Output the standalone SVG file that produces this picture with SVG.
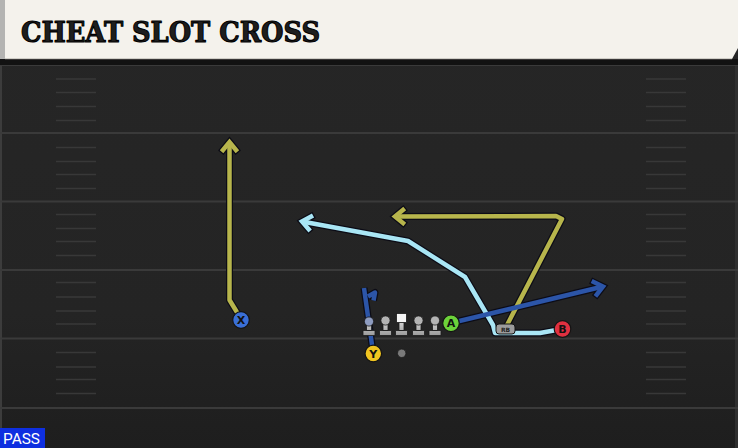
<svg xmlns="http://www.w3.org/2000/svg" width="738" height="448" viewBox="0 0 738 448">
  <defs>
    <linearGradient id="field" x1="0" y1="0" x2="0" y2="1">
      <stop offset="0" stop-color="#262626"/>
      <stop offset="0.7" stop-color="#242424"/>
      <stop offset="1" stop-color="#1e1e1e"/>
    </linearGradient>
    <linearGradient id="lm" x1="0" y1="0" x2="0" y2="1">
      <stop offset="0" stop-color="#d4d4d4"/>
      <stop offset="1" stop-color="#9a9a9a"/>
    </linearGradient>
    <marker id="ah-o" markerUnits="userSpaceOnUse" markerWidth="30" markerHeight="30" refX="0" refY="0" viewBox="-15 -15 30 30" orient="auto" overflow="visible">
      <path d="M-8,-6.5 L0,0 L-8,6.5" fill="none" stroke="#0c0c16" stroke-width="7" stroke-linejoin="miter" stroke-linecap="square"/>
    </marker>
    <marker id="ah-olive" markerUnits="userSpaceOnUse" markerWidth="30" markerHeight="30" refX="0" refY="0" viewBox="-15 -15 30 30" orient="auto" overflow="visible">
      <path d="M-8,-6.5 L0,0 L-8,6.5" fill="none" stroke="#b7b54c" stroke-width="4.5" stroke-linejoin="miter" stroke-linecap="square"/>
    </marker>
    <marker id="ah-blue" markerUnits="userSpaceOnUse" markerWidth="30" markerHeight="30" refX="0" refY="0" viewBox="-15 -15 30 30" orient="auto" overflow="visible">
      <path d="M-8,-6.5 L0,0 L-8,6.5" fill="none" stroke="#2c55a8" stroke-width="4.5" stroke-linejoin="miter" stroke-linecap="square"/>
    </marker>
    <marker id="ah-cyan" markerUnits="userSpaceOnUse" markerWidth="30" markerHeight="30" refX="0" refY="0" viewBox="-15 -15 30 30" orient="auto" overflow="visible">
      <path d="M-8,-6.5 L0,0 L-8,6.5" fill="none" stroke="#a9e6f5" stroke-width="4.5" stroke-linejoin="miter" stroke-linecap="square"/>
    </marker>
  </defs>
  <style>
    .yard { stroke: #3a3a3a; stroke-width: 2; }
    .hash { stroke: #383838; stroke-width: 1.6; }
    .out { fill: none; stroke: #0c0c16; stroke-width: 7; stroke-linejoin: round; }
    .route { fill: none; stroke-width: 4.5; stroke-linejoin: round; }
    .olive { stroke: #b7b54c; }
    .blue { stroke: #2c55a8; }
    .cyan { stroke: #a9e6f5; }
    .lbl { font-family: "DejaVu Sans", "Liberation Sans", sans-serif; font-weight: bold; font-size: 11px; fill: #111; text-anchor: middle; }
    .pl { stroke: #141414; stroke-width: 1.2; }
    .lineman { fill: url(#lm); stroke: #1a1a1a; stroke-width: 0.8; }
    .head { fill: #b4b4b4; stroke: #1a1a1a; stroke-width: 0.8; }
  </style>

  <!-- field -->
  <rect x="0" y="0" width="738" height="448" fill="url(#field)"/>
  <rect x="0" y="59" width="2" height="389" fill="#3c3c3c"/>
  <rect x="735" y="59" width="3" height="389" fill="#2f2f2f"/>

  <g id="yardlines">
    <line class="yard" x1="0" y1="65" x2="738" y2="65"/>
    <line class="yard" x1="0" y1="133" x2="738" y2="133"/>
    <line class="yard" x1="0" y1="201.5" x2="738" y2="201.5"/>
    <line class="yard" x1="0" y1="270" x2="738" y2="270"/>
    <line class="yard" x1="0" y1="338.5" x2="738" y2="338.5"/>
    <line class="yard" x1="0" y1="408" x2="738" y2="408"/>
  </g>
  <g id="hashes">
    <path class="hash" d="M56,79H96M56,92.5H96M56,106.5H96M56,120.5H96M56,147.5H96M56,161.5H96M56,174.5H96M56,188.5H96M56,214.5H96M56,228.5H96M56,241.5H96M56,255.5H96M56,282.5H96M56,297H96M56,311H96M56,324H96M56,352.5H96M56,367H96M56,379.5H96M56,393.5H96"/>
    <path class="hash" d="M646,79H686M646,92.5H686M646,106.5H686M646,120.5H686M646,147.5H686M646,161.5H686M646,174.5H686M646,188.5H686M646,214.5H686M646,228.5H686M646,241.5H686M646,255.5H686M646,282.5H686M646,297H686M646,311H686M646,324H686M646,352.5H686M646,367H686M646,379.5H686M646,393.5H686"/>
  </g>

  <!-- header -->
  <g id="header">
    <rect x="0" y="59" width="738" height="6" fill="#121212"/>
    <polygon points="0,0 738,0 738,48 732,59 0,59" fill="#f4f2ec"/>
    <rect x="0" y="0" width="5" height="59" fill="#b4b4b2"/>
    <rect x="5" y="58" width="727" height="1.2" fill="#cfcdc6"/>
    <text x="21" y="42" font-family="'DejaVu Serif', 'Liberation Serif', serif" font-weight="bold" font-size="28" fill="#1e1e1e" stroke="#000" stroke-width="1.1" stroke-linejoin="round" textLength="299" lengthAdjust="spacingAndGlyphs">CHEAT SLOT CROSS</text>
  </g>

  <!-- connectors / routes -->
  <g id="routes">
    <!-- outlines -->
    <polyline class="out" points="241,320 236.5,311.5 229.5,300 229.5,142" marker-end="url(#ah-o)"/>
    <polyline class="out" points="506,327 562,219 556,216 395,216.5" marker-end="url(#ah-o)"/>
    <polyline class="out" points="562,329 540,333 495,333 493,325 465,277 408,241 302,221.5" marker-end="url(#ah-o)"/>
    <polyline class="out" points="451,323 603,286.5" marker-end="url(#ah-o)"/>
    <polyline class="out" points="373,352 364,288"/>
    <polyline class="out" points="368,296.5 375,292.5 373.5,300.5"/>
    <!-- colours -->
    <polyline class="route olive" points="241,320 236.5,311.5 229.5,300 229.5,142" marker-end="url(#ah-olive)"/>
    <polyline class="route olive" points="506,327 562,219 556,216 395,216.5" marker-end="url(#ah-olive)"/>
    <polyline class="route cyan" points="562,329 540,333 495,333 493,325 465,277 408,241 302,221.5" marker-end="url(#ah-cyan)"/>
    <polyline class="route blue" points="451,323 603,286.5" marker-end="url(#ah-blue)"/>
    <polyline class="route blue" points="373,352 364,288"/>
    <polyline class="route blue" points="368,296.5 375,292.5 373.5,300.5"/>
  </g>

  <!-- linemen -->
  <g id="lt">
    <path class="lineman" d="M363,330.5h12v5h-12z M366.5,322h5v8.5h-5z"/>
    <circle cx="369" cy="321.5" r="4.6" fill="#8e9cc0" stroke="#1a1a1a" stroke-width="0.8"/>
  </g>
  <g id="lg">
    <path class="lineman" d="M379.5,330.5h12v5h-12z M383,322h5v8.5h-5z"/>
    <circle class="head" cx="385.5" cy="320.5" r="4.6"/>
  </g>
  <g id="c">
    <path class="lineman" d="M395.5,330.5h12v5h-12z M399,322h5v8.5h-5z"/>
    <rect x="396.5" y="313.5" width="10" height="9" fill="#f6f6f6" stroke="#1a1a1a" stroke-width="0.8"/>
  </g>
  <g id="rg">
    <path class="lineman" d="M412.5,330.5h12v5h-12z M416,322h5v8.5h-5z"/>
    <circle class="head" cx="418.5" cy="320.5" r="4.6"/>
  </g>
  <g id="rt">
    <path class="lineman" d="M429,330.5h12v5h-12z M432.5,322h5v8.5h-5z"/>
    <circle class="head" cx="435" cy="320.5" r="4.6"/>
  </g>

  <!-- skill players -->
  <g id="qb">
    <circle cx="401.7" cy="353.3" r="4.2" fill="#7a7a7a" stroke="#1a1a1a" stroke-width="0.8"/>
  </g>
  <g id="x">
    <circle class="pl" cx="241" cy="320" r="8.3" fill="#3a6fd6"/>
    <text class="lbl" x="241" y="324">X</text>
  </g>
  <g id="a">
    <circle class="pl" cx="451" cy="323.3" r="8.3" fill="#6cd23a"/>
    <text class="lbl" x="451" y="327.3">A</text>
  </g>
  <g id="b">
    <circle class="pl" cx="562.5" cy="329" r="8.3" fill="#e03040"/>
    <text class="lbl" x="562.5" y="333">B</text>
  </g>
  <g id="y">
    <circle class="pl" cx="373.3" cy="353.5" r="8.3" fill="#f0c420"/>
    <text class="lbl" x="373.3" y="357.5">Y</text>
  </g>
  <g id="rb">
    <rect x="496" y="324" width="19" height="10" rx="3" fill="#9c9c9c" stroke="#141414" stroke-width="1"/>
    <text x="505.5" y="331.5" font-family="'DejaVu Sans', sans-serif" font-weight="bold" font-size="6" fill="#222" text-anchor="middle">RB</text>
  </g>

  <!-- pass tag -->
  <g id="pass">
    <rect x="0" y="428" width="45" height="20" fill="#0e2fe0"/>
    <text x="3" y="444" font-family="Roboto, 'Liberation Sans', sans-serif" font-size="15" fill="#ffffff" textLength="37" lengthAdjust="spacingAndGlyphs">PASS</text>
  </g>
</svg>
